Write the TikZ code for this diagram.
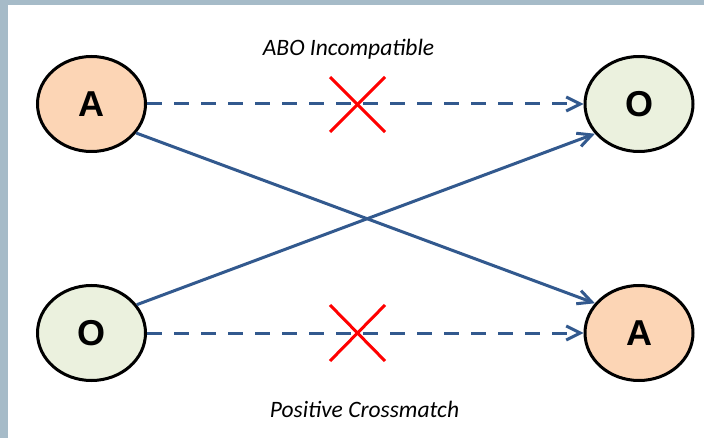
\documentclass[tikz,border=0pt]{standalone}
\usepackage{fontspec}
\setmainfont{Liberation Sans}
\newfontfamily\labelfont{Carlito}
\usetikzlibrary{shapes.geometric,arrows.meta}
\definecolor{framegray}{HTML}{A6BBC8}
\definecolor{peach}{HTML}{FCD5B5}
\definecolor{palegreen}{HTML}{EBF1DE}
\definecolor{linkblue}{HTML}{32598E}
\tikzset{
  blood/.style={ellipse, draw=black, line width=3pt, inner sep=0pt,
    minimum width=108pt, minimum height=95pt,
    font=\fontsize{36}{36}\selectfont\bfseries},
  typeA/.style={blood, fill=peach},
  typeO/.style={blood, fill=palegreen},
  link/.style={draw=linkblue, line width=3pt,
    -{Straight Barb[length=14pt,width=14pt,line width=3pt]}},
  dashlink/.style={link, dash pattern=on 15pt off 12pt},
  cross/.style={draw=red, line width=3pt},
  caption/.style={font=\labelfont\itshape\fontsize{23.5}{24}\selectfont, inner sep=0pt}
}
\begin{document}
\begin{tikzpicture}[x=1pt,y=-1pt]
\useasboundingbox (0,0) rectangle (704,438);
\fill[white] (0,0) rectangle (704,438);
\fill[framegray] (0,0) rectangle (704,5);
\fill[framegray] (0,0) rectangle (8,438);

\node[typeA] (a1) at (91.5,104) {A};
\node[typeO] (o1) at (639,104) {O};
\node[typeO] (o2) at (91.5,333) {O};
\node[typeA] (a2) at (639,333) {A};

\draw[dashlink] (a1.east) -- (o1.west);
\draw[dashlink] (o2.east) -- (a2.west);
\draw[link] (a1.-33) -- (a2.146);
\draw[link] (o2.32) -- (o1.214);

\coordinate (x1a) at (330,77);
\coordinate (x1b) at (385,132);
\coordinate (x1c) at (330,132);
\coordinate (x1d) at (385,77);
\draw[cross] (x1a) -- (x1b);
\draw[cross] (x1c) -- (x1d);
\coordinate (x2a) at (330,305);
\coordinate (x2b) at (385,361);
\coordinate (x2c) at (330,361);
\coordinate (x2d) at (385,305);
\draw[cross] (x2a) -- (x2b);
\draw[cross] (x2c) -- (x2d);

\node[caption, anchor=base] (t1) at (348.5,56) {ABO Incompatible};
\node[caption, anchor=base] (t2) at (364.5,417) {Positive Crossmatch};
\end{tikzpicture}
\end{document}
